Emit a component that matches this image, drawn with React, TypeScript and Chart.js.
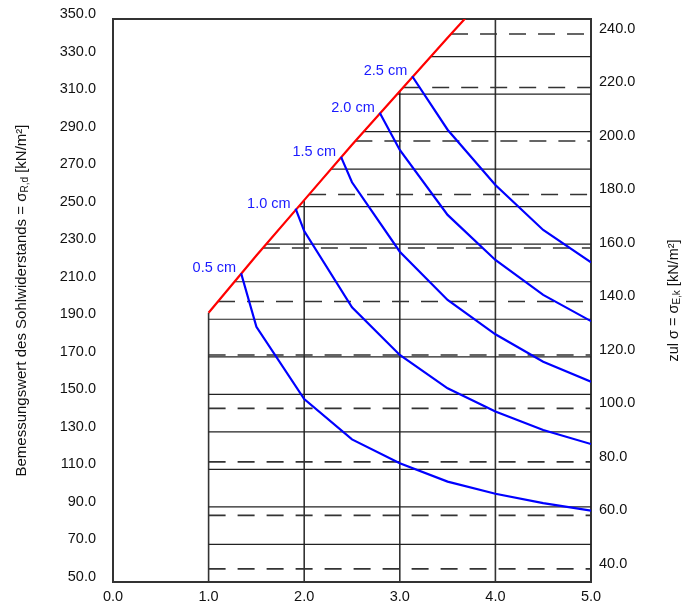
import React, { useEffect, useRef } from "react";
import { Chart, registerables } from "chart.js";

Chart.register(...registerables);

// ---- axis ticks ----
const xTicks = [0, 1, 2, 3, 4, 5];
const leftTicks = [50, 70, 90, 110, 130, 150, 170, 190, 210, 230, 250, 270, 290, 310, 330, 350];
const rightTicks = [40, 60, 80, 100, 120, 140, 160, 180, 200, 220, 240];
const leftMin = 50;
const leftMax = 350;
const rightMin = 35.1;
const rightMax = 245.6;

// ---- limit line (red) ----
const limitX = [1.0, 1.5, 2.0, 2.5, 3.0, 3.5, 4.0];
const limitY = [193.5, 224, 253.5, 283, 311.5, 340, 368];

// ---- settlement curves (blue) ----
const curveLabels = ["0.5 cm", "1.0 cm", "1.5 cm", "2.0 cm", "2.5 cm"];
const s05X = [1.34, 1.5, 2.0, 2.5, 3.0, 3.5, 4.0, 4.5, 5.0];
const s05Y = [214.5, 186, 147.5, 126, 113.3, 103.5, 97, 92, 88];
const s10X = [1.91, 2.0, 2.5, 3.0, 3.5, 4.0, 4.5, 5.0];
const s10Y = [249, 237, 196.4, 171, 153.2, 140.8, 131, 123.5];
const s15X = [2.385, 2.5, 3.0, 3.5, 4.0, 4.5, 5.0];
const s15Y = [276.5, 263, 226, 200.3, 182, 167.4, 156.7];
const s20X = [2.79, 3.0, 3.5, 4.0, 4.5, 5.0];
const s20Y = [300, 280.2, 245.6, 221.6, 203, 189];
const s25X = [3.13, 3.5, 4.0, 4.5, 5.0];
const s25Y = [319.5, 291, 261.5, 237.6, 220.3];

const curvesX = [s05X, s10X, s15X, s20X, s25X];
const curvesY = [s05Y, s10Y, s15Y, s20Y, s25Y];

const FONT = "'Liberation Sans', Arial, sans-serif";

function limitXAt(v: number): number {
  if (v <= limitY[0]) return limitX[0];
  for (let i = 0; i < limitY.length - 1; i++) {
    if (v >= limitY[i] && v <= limitY[i + 1]) {
      const t = (v - limitY[i]) / (limitY[i + 1] - limitY[i]);
      return limitX[i] + t * (limitX[i + 1] - limitX[i]);
    }
  }
  return limitX[limitX.length - 1];
}
function limitYAt(x: number): number {
  for (let i = 0; i < limitX.length - 1; i++) {
    if (x >= limitX[i] && x <= limitX[i + 1]) {
      const t = (x - limitX[i]) / (limitX[i + 1] - limitX[i]);
      return limitY[i] + t * (limitY[i + 1] - limitY[i]);
    }
  }
  return limitY[limitY.length - 1];
}

const titlePlugin = {
  id: "titles",
  afterDraw(chart: any) {
    const ctx = chart.ctx;
    const area = chart.chartArea;
    const cy = (area.top + area.bottom) / 2;
    const draw = (cx: number, parts: { t: string; size: number; dy: number }[]) => {
      ctx.save();
      ctx.translate(cx, cy);
      ctx.rotate(-Math.PI / 2);
      ctx.fillStyle = "#111";
      ctx.textBaseline = "middle";
      ctx.textAlign = "left";
      let total = 0;
      parts.forEach((p) => {
        ctx.font = `${p.size}px ${FONT}`;
        total += ctx.measureText(p.t).width;
      });
      let x = -total / 2;
      parts.forEach((p) => {
        ctx.font = `${p.size}px ${FONT}`;
        ctx.fillText(p.t, x, p.dy);
        x += ctx.measureText(p.t).width;
      });
      ctx.restore();
    };
    draw(22, [
      { t: "Bemessungswert des Sohlwiderstands = σ", size: 15, dy: 0 },
      { t: "R,d", size: 10, dy: 3 },
      { t: " [kN/m²]", size: 15, dy: 0 },
    ]);
    draw(674, [
      { t: "zul σ = σ", size: 14.5, dy: 0 },
      { t: "E,k", size: 10, dy: 3 },
      { t: " [kN/m²]", size: 14.5, dy: 0 },
    ]);

    // curve labels
    const xs = chart.scales.x;
    const ys = chart.scales.y;
    ctx.save();
    ctx.font = `14.5px ${FONT}`;
    ctx.fillStyle = "#1a1aff";
    ctx.textAlign = "right";
    ctx.textBaseline = "middle";
    curvesX.forEach((cx, i) => {
      const px = xs.getPixelForValue(cx[0]);
      const py = ys.getPixelForValue(curvesY[i][0]);
      ctx.fillText(curveLabels[i], px - 5, py - 5);
    });
    ctx.restore();
  },
  beforeDatasetsDraw(chart: any) {
    const ctx = chart.ctx;
    const a = chart.chartArea;
    ctx.save();
    ctx.strokeStyle = "#333";
    ctx.lineWidth = 2;
    ctx.strokeRect(a.left, a.top, a.right - a.left, a.bottom - a.top);
    ctx.restore();
  },
};

export default function App() {
  const ref = useRef<HTMLCanvasElement | null>(null);
  useEffect(() => {
    if (!ref.current) return;
    const datasets: any[] = [];

    // solid horizontal grid (left-axis values)
    leftTicks
      .filter((v) => v > leftMin && v < leftMax)
      .forEach((v) => {
        datasets.push({
          data: [
            { x: limitXAt(v), y: v },
            { x: 5, y: v },
          ],
          borderColor: "#222",
          borderWidth: 1.2,
          pointRadius: 0,
          showLine: true,
          order: 5,
        });
      });
    // dashed horizontal grid (right-axis values)
    rightTicks.forEach((r) => {
      const v = leftMin + ((r - rightMin) * (leftMax - leftMin)) / (rightMax - rightMin);
      datasets.push({
        data: [
          { x: limitXAt(v), y: r },
          { x: 5, y: r },
        ],
        yAxisID: "y2",
        borderColor: "#333",
        borderWidth: 1.6,
        borderDash: [17, 12],
        pointRadius: 0,
        showLine: true,
        order: 5,
      });
    });
    // vertical grid
    xTicks
      .filter((x) => x > 0 && x < 5)
      .forEach((x) => {
        datasets.push({
          data: [
            { x, y: leftMin },
            { x, y: Math.min(leftMax, limitYAt(x)) },
          ],
          borderColor: "#333",
          borderWidth: 1.6,
          pointRadius: 0,
          showLine: true,
          order: 5,
        });
      });
    // limit line
    datasets.push({
      data: limitX.map((x, i) => ({ x, y: limitY[i] })),
      borderColor: "#ff0000",
      borderWidth: 2.2,
      pointRadius: 0,
      showLine: true,
      order: 1,
    });
    // settlement curves
    curvesX.forEach((cx, k) => {
      datasets.push({
        label: curveLabels[k],
        data: cx.map((x, i) => ({ x, y: curvesY[k][i] })),
        borderColor: "#0000ff",
        borderWidth: 2.2,
        pointRadius: 0,
        showLine: true,
        order: 0,
      });
    });

    const tickFont = { family: FONT, size: 14.5 };
    const chart = new Chart(ref.current, {
      type: "scatter",
      data: { datasets },
      plugins: [titlePlugin],
      options: {
        animation: false,
        responsive: false,
        devicePixelRatio: 1,
        layout: { padding: { top: 19, left: 0, right: 0, bottom: 0 } },
        plugins: { legend: { display: false }, tooltip: { enabled: false } },
        scales: {
          x: {
            type: "linear",
            min: 0,
            max: 5,
            grid: { display: false, drawTicks: false },
            border: { display: false },
            ticks: {
              padding: 6,
              color: "#111",
              font: tickFont,
              callback: (v: any) => Number(v).toFixed(1),
            },
            afterBuildTicks: (s: any) => {
              s.ticks = xTicks.map((value) => ({ value }));
            },
            afterFit: (s: any) => {
              s.height = 26;
              s.paddingLeft = 0;
              s.paddingRight = 0;
            },
          },
          y: {
            type: "linear",
            position: "left",
            min: leftMin,
            max: leftMax,
            grid: { display: false, drawTicks: false },
            border: { display: false },
            ticks: {
              padding: 17,
              labelOffset: -5,
              color: "#111",
              font: tickFont,
              callback: (v: any) => Number(v).toFixed(1),
            },
            afterBuildTicks: (s: any) => {
              s.ticks = leftTicks.map((value) => ({ value }));
            },
            afterFit: (s: any) => {
              s.width = 113;
              s.paddingTop = 0;
              s.paddingBottom = 0;
            },
          },
          y2: {
            type: "linear",
            position: "right",
            min: rightMin,
            max: rightMax,
            grid: { display: false, drawTicks: false },
            border: { display: false },
            ticks: {
              padding: 8,
              labelOffset: -5,
              color: "#111",
              font: tickFont,
              callback: (v: any) => Number(v).toFixed(1),
            },
            afterBuildTicks: (s: any) => {
              s.ticks = rightTicks.map((value) => ({ value }));
            },
            afterFit: (s: any) => {
              s.width = 93;
              s.paddingTop = 0;
              s.paddingBottom = 0;
            },
          },
        },
      } as any,
    });
    return () => chart.destroy();
  }, []);

  return (
    <div style={{ position: "fixed", left: 0, top: 0, width: 684, height: 608, background: "#fff" }}>
      <canvas ref={ref} width={684} height={608} style={{ display: "block" }} />
    </div>
  );
}
